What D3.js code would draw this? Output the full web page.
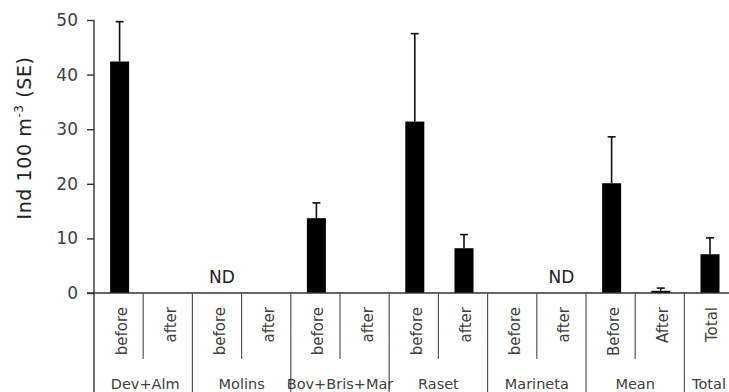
<!DOCTYPE html>
<html>
<head>
<meta charset="utf-8">
<script src="https://cdn.jsdelivr.net/npm/d3@7"></script>
<style>
  html, body { margin: 0; padding: 0; background: #fff; }
  svg { display: block; font-family: "DejaVu Sans", sans-serif; }
</style>
</head>
<body>
<svg id="chart" width="729" height="392"></svg>
<script>
// ---- data ----
const groups = ["Dev+Alm", "Molins", "Bov+Bris+Mar", "Raset", "Marineta", "Mean", "Total"];
const groupSizes = [2, 2, 2, 2, 2, 2, 1];
const subLabels = ["before", "after", "before", "after", "before", "after", "before", "after",
                   "before", "after", "Before", "After", "Total"];
const values = [42.4, null, null, null, 13.7, null, 31.4, 8.2, null, null, 20.1, 0.4, 7.1];
const errors = [7.3, null, null, null, 2.8, null, 16.1, 2.5, null, null, 8.5, 0.5, 3.0];
const yTicks = [0, 10, 20, 30, 40, 50];
const ndLabels = [{ pos: 2.6, text: "ND" }, { pos: 9.5, text: "ND" }];

// ---- layout ----
const W = 729, H = 392;
const x0 = 94, bandW = 49.2;
const yTop = 20, yZero = 293;
const svg = d3.select("#chart");
const textColor = "#404040";

const x = d3.scaleBand()
  .domain(d3.range(subLabels.length))
  .range([x0, x0 + bandW * subLabels.length])
  .paddingInner(0).paddingOuter(0);
const xPos = d3.scaleLinear().domain([0, subLabels.length]).range([x0, x0 + bandW * subLabels.length]);
const y = d3.scaleLinear().domain([0, 50]).range([yZero, yTop]);

const barW = 19;

// bars
const data = values.map((v, i) => ({ i, v, e: errors[i] })).filter(d => d.v != null);
svg.append("g").selectAll("rect").data(data).join("rect")
  .attr("x", d => x(d.i) + x.bandwidth() / 2 - barW / 2 + 1)
  .attr("width", barW)
  .attr("y", d => y(d.v))
  .attr("height", d => y(0) - y(d.v))
  .attr("fill", "#000");

// error bars (upper only)
const eg = svg.append("g").attr("stroke", "#111").attr("stroke-width", 1.6);
data.forEach(d => {
  const cx = x(d.i) + x.bandwidth() / 2 + 1;
  eg.append("line").attr("x1", cx).attr("x2", cx).attr("y1", y(d.v)).attr("y2", y(d.v + d.e));
  eg.append("line").attr("x1", cx - 4).attr("x2", cx + 4).attr("y1", y(d.v + d.e)).attr("y2", y(d.v + d.e));
});

// y axis
const yAxis = d3.axisLeft(y).tickValues(yTicks).tickSize(7).tickPadding(9);
const ya = svg.append("g").attr("transform", `translate(${x0},0)`).call(yAxis);
ya.select(".domain").remove();
ya.selectAll(".tick line").attr("stroke", "#333").attr("stroke-width", 1.4);
ya.selectAll(".tick text").attr("font-size", 17).attr("fill", textColor)
  .attr("font-family", "DejaVu Sans, sans-serif");
svg.append("line").attr("x1", x0).attr("x2", x0).attr("y1", yTop).attr("y2", H)
  .attr("stroke", "#333").attr("stroke-width", 1.4);

// x axis line
svg.append("line").attr("x1", x0 - 7).attr("x2", W).attr("y1", yZero).attr("y2", yZero)
  .attr("stroke", "#333").attr("stroke-width", 1.4);

// separators
const groupStarts = [];
let acc = 0;
groupSizes.forEach(s => { groupStarts.push(acc); acc += s; });
const sep = svg.append("g").attr("stroke", "#555").attr("stroke-width", 1.2);
d3.range(1, subLabels.length).forEach(i => {
  const isGroup = groupStarts.includes(i);
  sep.append("line").attr("x1", x(i)).attr("x2", x(i))
    .attr("y1", yZero).attr("y2", isGroup ? H : 359);
});

// sub labels (rotated)
svg.append("g").selectAll("text").data(subLabels).join("text")
  .attr("transform", (d, i) => `translate(${x(i) + x.bandwidth() / 2 + 8},307) rotate(-90)`)
  .attr("text-anchor", "end")
  .attr("font-size", 15)
  .attr("fill", textColor)
  .text(d => d);

// group labels
svg.append("g").selectAll("text").data(groups).join("text")
  .attr("x", (d, gi) => xPos(groupStarts[gi] + groupSizes[gi] / 2) + (gi === 0 ? 2 : 0))
  .attr("y", 389)
  .attr("text-anchor", "middle")
  .attr("font-size", 14.5)
  .attr("fill", textColor)
  .text(d => d);

// ND labels
svg.append("g").selectAll("text").data(ndLabels).join("text")
  .attr("x", d => xPos(d.pos))
  .attr("y", 283)
  .attr("text-anchor", "middle")
  .attr("font-size", 17)
  .attr("fill", "#222")
  .text(d => d.text);

// y title
const yt = svg.append("text")
  .attr("transform", "translate(31,138) rotate(-90)")
  .attr("text-anchor", "middle")
  .attr("font-size", 19)
  .attr("letter-spacing", 0.6)
  .attr("fill", "#222");
yt.append("tspan").text("Ind  100 m");
yt.append("tspan").attr("font-size", 12).attr("dy", -8).text("-3");
yt.append("tspan").attr("dy", 8).text(" (SE)");
</script>
</body>
</html>
